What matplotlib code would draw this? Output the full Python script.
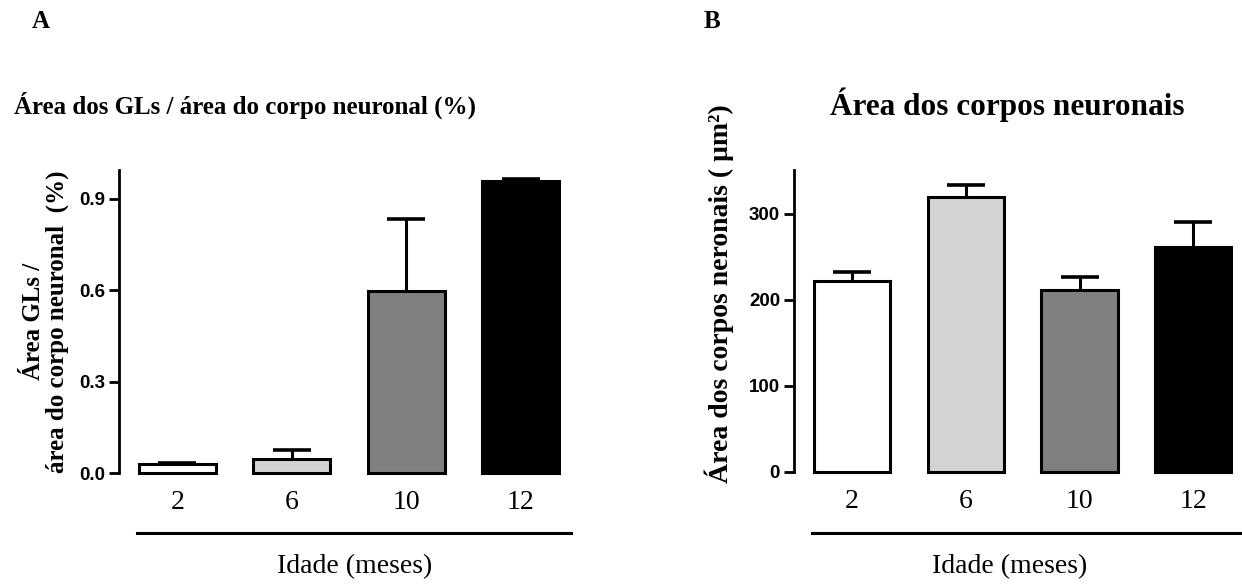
import matplotlib
matplotlib.use("Agg")
import matplotlib.pyplot as plt

ages = ["2", "6", "10", "12"]
gl_ratio = [0.03, 0.046, 0.598, 0.958]
gl_err = [0.004, 0.03, 0.236, 0.008]
body_area = [222, 320, 211, 262]
body_err = [10, 14, 16, 29]
colors = ["#ffffff", "#d3d3d3", "#808080", "#000000"]

SERIF = "Liberation Serif"
SANS = "Liberation Sans"

fig = plt.figure(figsize=(12.42, 5.85), dpi=100)
W, H = 1242, 585


def px_axes(x0, x1, ytop, ybot):
    return fig.add_axes([x0 / W, 1 - ybot / H, (x1 - x0) / W, (ybot - ytop) / H])


def draw(ax, vals, errs, ylim, yticks, yfmt):
    x = list(range(len(vals)))
    bars = ax.bar(x, vals, width=0.67, color=colors, edgecolor="black",
                  linewidth=2.2, zorder=2)
    for b in bars:
        b.set_clip_on(False)
    eb = ax.errorbar(x, vals, yerr=[[0] * len(vals), errs], fmt="none",
                     ecolor="black", elinewidth=2.2, capsize=14, capthick=2.6,
                     zorder=1)
    caps = eb[1]
    if len(caps) == 2:
        caps[0].set_visible(False)
    for c in caps:
        c.set_clip_on(False)
    for lc in eb[2]:
        lc.set_clip_on(False)
    ax.set_ylim(*ylim)
    ax.set_yticks(yticks)
    ax.set_yticklabels([yfmt(v) for v in yticks], fontfamily=SANS,
                       fontweight="bold", fontsize=13.5)
    ax.set_xticks(x)
    ax.set_xticklabels(ages, fontfamily=SERIF, fontsize=20)
    for s in ["top", "right", "bottom"]:
        ax.spines[s].set_visible(False)
    ax.spines["left"].set_linewidth(2)
    ax.tick_params(axis="y", length=7, width=2, pad=3)
    ax.tick_params(axis="x", length=0, pad=12)


# Panel A
axA = px_axes(119, 578, 170, 473)
axA.set_xlim(-0.51, 3.5)
draw(axA, gl_ratio, gl_err, (0, 0.995), [0.0, 0.3, 0.6, 0.9],
     lambda v: f"{v:.1f}")
axA.set_ylabel("Área GLs /\nárea do corpo neuronal  (%)", fontfamily=SERIF,
               fontweight="bold", fontsize=18, labelpad=7, linespacing=1.05)

# Panel B
axB = px_axes(794, 1240, 170, 472)
axB.set_xlim(-0.51, 3.41)
draw(axB, body_area, body_err, (0, 351), [0, 100, 200, 300],
     lambda v: f"{v:d}")
axB.set_ylabel("Área dos corpos neronais ( μm²)", fontfamily=SERIF,
               fontweight="bold", fontsize=20)
axB.yaxis.set_label_coords(-0.135, 0.59)

# Panel letters and titles
fig.text(41 / W, 1 - 22 / H, "A", fontfamily=SERIF, fontweight="bold",
         fontsize=18, ha="center", va="center")
fig.text(712 / W, 1 - 22 / H, "B", fontfamily=SERIF, fontweight="bold",
         fontsize=18, ha="center", va="center")
fig.text(245 / W, 1 - 105 / H, "Área dos GLs / área do corpo neuronal (%)",
         fontfamily=SERIF, fontweight="bold", fontsize=18, ha="center",
         va="center")
fig.text(1007 / W, 1 - 105 / H, "Área dos corpos neuronais",
         fontfamily=SERIF, fontweight="bold", fontsize=22.5, ha="center",
         va="center")

# Group lines and x labels
for x0, x1, xc in [(137, 571, 355), (812, 1240, 1010)]:
    fig.add_artist(plt.Line2D([x0 / W, x1 / W], [1 - 533 / H] * 2,
                              color="black", linewidth=2.2))
    fig.text(xc / W, 1 - 567 / H, "Idade (meses)", fontfamily=SERIF,
             fontsize=20, ha="center", va="center")

fig.savefig("out.png", dpi=100)
